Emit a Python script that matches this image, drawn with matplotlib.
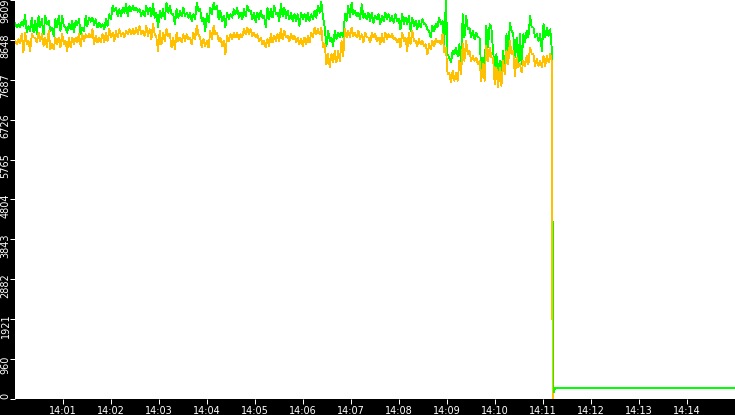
import numpy as np
import pandas as pd
import matplotlib
matplotlib.use("Agg")
import matplotlib.pyplot as plt
import matplotlib.dates as mdates

# ---- data ----
start = pd.Timestamp("2024-01-01 14:00:00")
step_s = 2.104  # seconds between samples

green_a = [9065, 8945, 9025, 8961, 9089, 8985, 9249, 8824, 8985, 8864, 9185, 8824, 9105, 8784, 9225, 8945,
           9145, 8784, 9225, 9025, 9105, 8864, 8945, 8744, 9145, 8945, 9225, 8864, 9225, 8985, 8945, 8824,
           9025, 8904, 9105, 8824, 9105, 9009, 9145, 8784, 8945, 8864, 9225, 8985, 9185, 9089, 9185, 9009,
           9145, 8945, 9065, 8945, 9025, 8904, 9145, 8985, 9265, 9145, 9465, 9345, 9425, 9225, 9385, 9225,
           9425, 9305, 9505, 9225, 9465, 9345, 9465, 9361, 9425, 9329, 9385, 9225, 9345, 9225, 9465, 9265]
green_b = [9425, 9225, 9505, 9185, 9305, 8945, 9345, 9185, 9385, 9145, 9545, 9305, 9465, 9265, 9265, 9025,
           9385, 9185, 9345, 9225, 9425, 9225, 9305, 9185, 9305, 9105, 9265, 9145, 9545, 9345, 9385, 9105,
           9185, 8864, 9265, 9065, 9425, 9265, 9545, 9385, 9465, 9145, 9345, 9105, 9225, 8945, 9305, 9145,
           9265, 9185, 9385, 9265, 9425, 9185, 9305, 9145, 9385, 9225, 9465, 9345, 9345, 9145, 9305, 9065,
           9305, 9145, 9345, 9185, 9225, 8945, 9425, 9145, 9385, 9185, 9465, 9265, 9305, 9105, 9505, 9225]
green_c = [9425, 9185, 9345, 9145, 9305, 9105, 9265, 9105, 9265, 8985, 9305, 9145, 9265, 9105, 9305, 9105,
           9265, 9145, 9345, 9185, 9465, 9305, 9560, 9185, 8945, 8504, 8864, 8624, 8704, 8504, 8864, 8664,
           8824, 8704, 8824, 8704, 9265, 9105, 9465, 9185, 9545, 9265, 9345, 9225, 9305, 9145, 9505, 9185,
           9265, 9145, 9305, 9105, 9305, 9065, 9225, 9145, 9265, 9025, 9225, 9105, 9305, 9145, 9265, 9105,
           9225, 9065, 9265, 9105, 9145, 8904, 9265, 9025, 9185, 9025, 9225, 8864, 9185, 8985, 9105, 8904]
green_d = [9105, 8945, 9145, 9025, 9025, 8904, 8864, 8704, 8985, 8864, 9025, 8945, 9185, 9025, 9105, 8544,
           9609, 8304, 8224, 8104, 8384, 8304, 8464, 8264, 8544, 8104, 9265, 8704, 9225, 8904, 8945, 8704,
           8864, 8664, 8824, 8704, 8704, 7904, 8224, 7904, 8985, 8464, 9025, 8945, 8384, 7984, 8304, 7784,
           8144, 7784, 8384, 7984, 8784, 8224, 9065, 8864, 8784, 8224, 8704, 7984, 8784, 8064, 8784, 8584,
           8864, 8704, 9225, 8945, 8945, 8704, 8784, 8624, 8784, 8384, 9025, 8704, 8945, 8744, 8904, 8384]

orange_a = [8624, 8544, 8664, 8560, 8784, 8344, 8824, 8544, 8624, 8384, 8784, 8704, 8704, 8584, 8824, 8624,
            8784, 8504, 8704, 8464, 8864, 8424, 8544, 8424, 8704, 8544, 8704, 8464, 8784, 8544, 8624, 8384,
            8704, 8464, 8704, 8544, 8704, 8584, 8784, 8504, 8784, 8624, 8784, 8704, 8784, 8704, 8904, 8544,
            8744, 8584, 8704, 8584, 8784, 8584, 8824, 8624, 8904, 8704, 8824, 8624, 8864, 8704, 8904, 8744,
            8824, 8704, 8864, 8784, 8904, 8784, 8904, 8784, 8945, 8784, 8985, 8784, 8864, 8744, 8985, 8744]
orange_b = [8904, 8664, 9025, 8784, 8704, 8384, 8864, 8544, 8824, 8624, 8904, 8744, 8784, 8464, 8704, 8424,
            8824, 8624, 8704, 8584, 8784, 8624, 8784, 8664, 8704, 8544, 8824, 8664, 8985, 8784, 8704, 8464,
            8664, 8504, 8624, 8464, 8864, 8664, 8985, 8784, 8824, 8624, 8704, 8504, 8624, 8304, 8744, 8624,
            8784, 8664, 8824, 8704, 8824, 8664, 8784, 8704, 8904, 8784, 8945, 8784, 8904, 8744, 8824, 8704,
            8784, 8624, 8704, 8544, 8624, 8464, 8664, 8504, 8784, 8584, 8744, 8624, 8784, 8624, 8904, 8664]
orange_c = [8864, 8704, 8744, 8624, 8784, 8664, 8744, 8584, 8704, 8544, 8664, 8504, 8704, 8544, 8744, 8584,
            8824, 8704, 8945, 8784, 8904, 8784, 8945, 8464, 8544, 8064, 8304, 7984, 8304, 8104, 8384, 8104,
            8384, 8144, 8624, 8264, 8904, 8704, 8864, 8704, 8945, 8744, 8824, 8704, 8864, 8664, 8784, 8584,
            8824, 8704, 8704, 8584, 8824, 8704, 8784, 8624, 8704, 8544, 8784, 8584, 8824, 8664, 8784, 8704,
            8784, 8664, 8704, 8584, 8664, 8464, 8824, 8624, 8704, 8384, 8824, 8544, 8864, 8624, 8624, 8504]
orange_d = [8664, 8544, 8624, 8504, 8544, 8304, 8544, 8424, 8624, 8504, 8664, 8584, 8624, 8544, 8784, 8344,
            8464, 7824, 7864, 7624, 7904, 7664, 7864, 7664, 8144, 7824, 8544, 8144, 8624, 8304, 8384, 8144,
            8264, 8144, 8224, 8064, 8144, 7664, 8064, 7664, 8504, 8144, 8464, 8224, 8224, 7583, 7984, 7503,
            7984, 7543, 8144, 7824, 8384, 8064, 8624, 8304, 8384, 7784, 8224, 7984, 8064, 7864, 8144, 8024,
            8264, 8064, 8464, 8304, 8304, 8024, 8184, 8024, 8144, 7984, 8264, 8024, 8264, 8104, 8304, 8104]

# tail after the drop (seconds after 14:00:00, values)
green_tail_s = [671.5, 672.3, 673.0, 675.0, 900.0]
green_tail_v = [4460, 4160, 140, 264, 264]
orange_tail_s = [671.5, 672.0]
orange_tail_v = [4160, 0]

y_max = 9609
n_ticks = 11
x_start = "14:00:00"
x_end = "14:15:00"

# ---- build series ----
green_vals = green_a + green_b + green_c + green_d
orange_vals = orange_a + orange_b + orange_c + orange_d
main_s = np.arange(len(green_vals)) * step_s
green_t = start + pd.to_timedelta(np.concatenate([main_s, green_tail_s]), unit="s")
orange_t = start + pd.to_timedelta(np.concatenate([main_s, orange_tail_s]), unit="s")
green_y = np.array(green_vals + green_tail_v, dtype=float)
orange_y = np.array(orange_vals + orange_tail_v, dtype=float)

# ---- figure ----
W, H, DPI = 735, 415, 100
fig = plt.figure(figsize=(W / DPI, H / DPI), dpi=DPI, facecolor="black")
ax_l, ax_b, ax_w, ax_h = 15, 16, 720, 399
ax = fig.add_axes([ax_l / W, ax_b / H, ax_w / W, ax_h / H])
ax.set_facecolor("white")

ax.plot(green_t, green_y, color="#00ff00", lw=0.6, antialiased=False, zorder=2)
ax.plot(orange_t, orange_y, color="#ffc000", lw=0.6, antialiased=False, zorder=3)

day = start.strftime("%Y-%m-%d")
ax.set_xlim(pd.Timestamp(f"{day} {x_start}"), pd.Timestamp(f"{day} {x_end}"))
ax.set_ylim(0, y_max)

for s in ax.spines.values():
    s.set_visible(False)

# x axis
ax.xaxis.set_major_locator(mdates.MinuteLocator(byminute=range(1, 15)))
ax.xaxis.set_major_formatter(mdates.DateFormatter("%H:%M"))
ax.tick_params(axis="x", colors="white", length=3.6, width=0.72, pad=1.5,
               labelsize=7, labelcolor="white")

# y axis
yt = np.linspace(0, y_max, n_ticks)
ax.set_yticks(yt)
ax.tick_params(axis="y", colors="white", length=3.6, width=0.72, labelleft=False)
for v in yt:
    tick_px = (1 - v / y_max) * ax_h
    center = min(max(tick_px + 6, 11), 396)
    ax.annotate(str(int(v)), xy=(0, v), xycoords=("axes fraction", "data"),
                xytext=(-9.5, -(center - tick_px)), textcoords="offset pixels",
                rotation=90, ha="center", va="center", color="white", fontsize=7,
                annotation_clip=False)

fig.savefig("out.png", dpi=DPI, facecolor="black")
